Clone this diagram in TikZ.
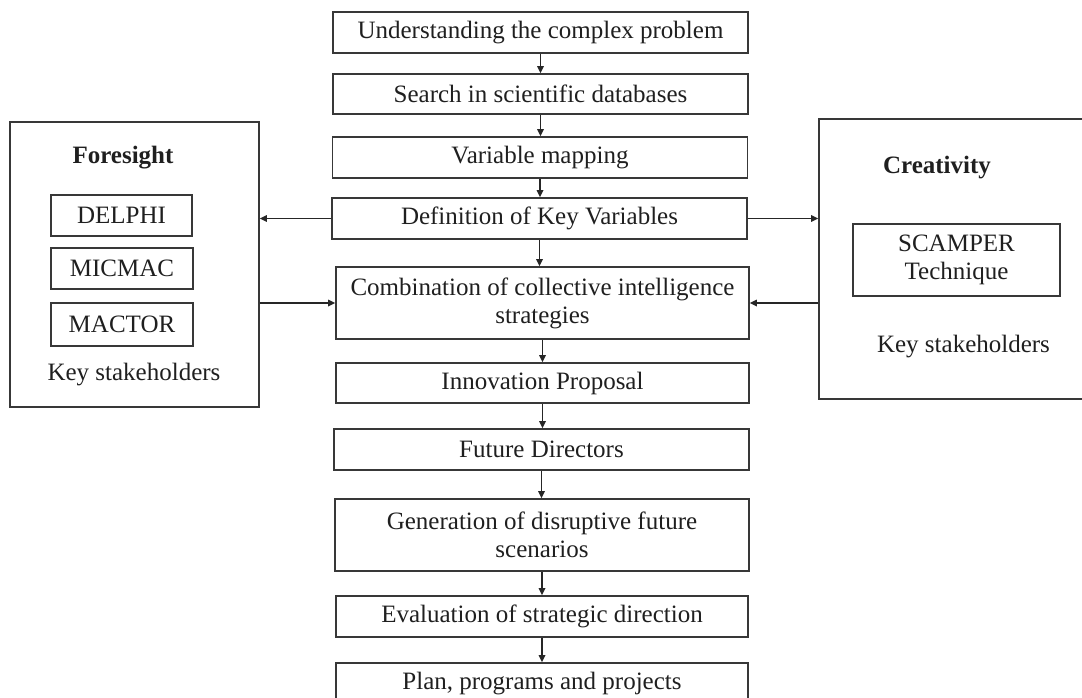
\documentclass[tikz,border=0pt]{standalone}
\usepackage{fontspec}
\setmainfont{Liberation Serif}
\usetikzlibrary{arrows.meta}
\begin{document}
\begin{tikzpicture}[x=1pt,y=-1pt,
  every node/.style={font=\fontsize{25}{28}\selectfont, text=black!88, inner sep=0pt},
  flowbox/.style={draw=black!78, line width=1.6pt, minimum width=415pt, minimum height=41pt, align=center},
  outerbox/.style={draw=black!78, line width=1.6pt},
  innerbox/.style={draw=black!78, line width=1.5pt, align=center},
  boldlabel/.style={font=\fontsize{25}{28}\selectfont\bfseries},
  conn/.style={draw=black!85, line width=1.6pt, -{Triangle[length=7pt,width=6.5pt]}}
]
\useasboundingbox (0,0) rectangle (1082,698);

% central flow
\node[flowbox] (b1) at (540.5,32.5) {Understanding the complex problem};
\node[flowbox, minimum height=40pt] (b2) at (540.5,94) {Search in scientific databases};
\node[flowbox] (b3) at (540,157.5) {Variable mapping};
\node[flowbox] (b4) at (539.5,218.5) {Definition of Key Variables};
\node[flowbox, minimum width=413pt, minimum height=72pt] (b5) at (542.5,303) {Combination of collective intelligence\\strategies};
\node[flowbox, minimum width=413pt, minimum height=40pt] (b6) at (542.5,383) {Innovation Proposal};
\node[flowbox] (b7) at (541.5,449.5) {Future Directors};
\node[flowbox, minimum width=414pt, minimum height=72pt] (b8) at (542,535) {Generation of disruptive future\\scenarios};
\node[flowbox, minimum width=412pt] (b9) at (542,616.5) {Evaluation of strategic direction};
\node[flowbox, minimum width=412pt] (b10) at (542,683.5) {Plan, programs and projects};

% left: Foresight
\node[outerbox, minimum width=249pt, minimum height=285pt] (fore) at (134.5,264.5) {};
\node[boldlabel] (foret) at (123,158) {Foresight};
\node[innerbox, minimum width=141pt, minimum height=41pt] (delphi) at (121.5,215.5) {DELPHI};
\node[innerbox, minimum width=142pt, minimum height=41pt] (micmac) at (122,268.5) {MICMAC};
\node[innerbox, minimum width=142pt, minimum height=43pt] (mactor) at (122,324.5) {MACTOR};
\node (ksl) at (134,375) {Key stakeholders};

% right: Creativity
\node[outerbox, minimum width=274pt, minimum height=280pt] (crea) at (956,259) {};
\node[boldlabel] (creat) at (937,168) {Creativity};
\node[innerbox, minimum width=207pt, minimum height=72pt] (scamper) at (956.5,260) {SCAMPER\\Technique};
\node (ksr) at (963.5,347) {Key stakeholders};

% vertical connectors
\draw[conn] (b1.south) -- (b1.south |- b2.north);
\draw[conn] (b2.south) -- (b2.south |- b3.north);
\draw[conn] (b3.south) -- (b3.south |- b4.north);
\draw[conn] (b4.south) -- (b4.south |- b5.north);
\draw[conn] (b5.south) -- (b5.south |- b6.north);
\draw[conn] (b6.south) -- (b6.south |- b7.north);
\draw[conn] (b7.south) -- (b7.south |- b8.north);
\draw[conn] (b8.south) -- (b8.south |- b9.north);
\draw[conn] (b9.south) -- (b9.south |- b10.north);

% side connectors
\draw[conn] (b4.west) -- (b4.west -| fore.east);
\draw[conn] (b5.west -| fore.east) -- (b5.west);
\draw[conn] (b4.east) -- (b4.east -| crea.west);
\draw[conn] (b5.east -| crea.west) -- (b5.east);
\end{tikzpicture}
\end{document}
